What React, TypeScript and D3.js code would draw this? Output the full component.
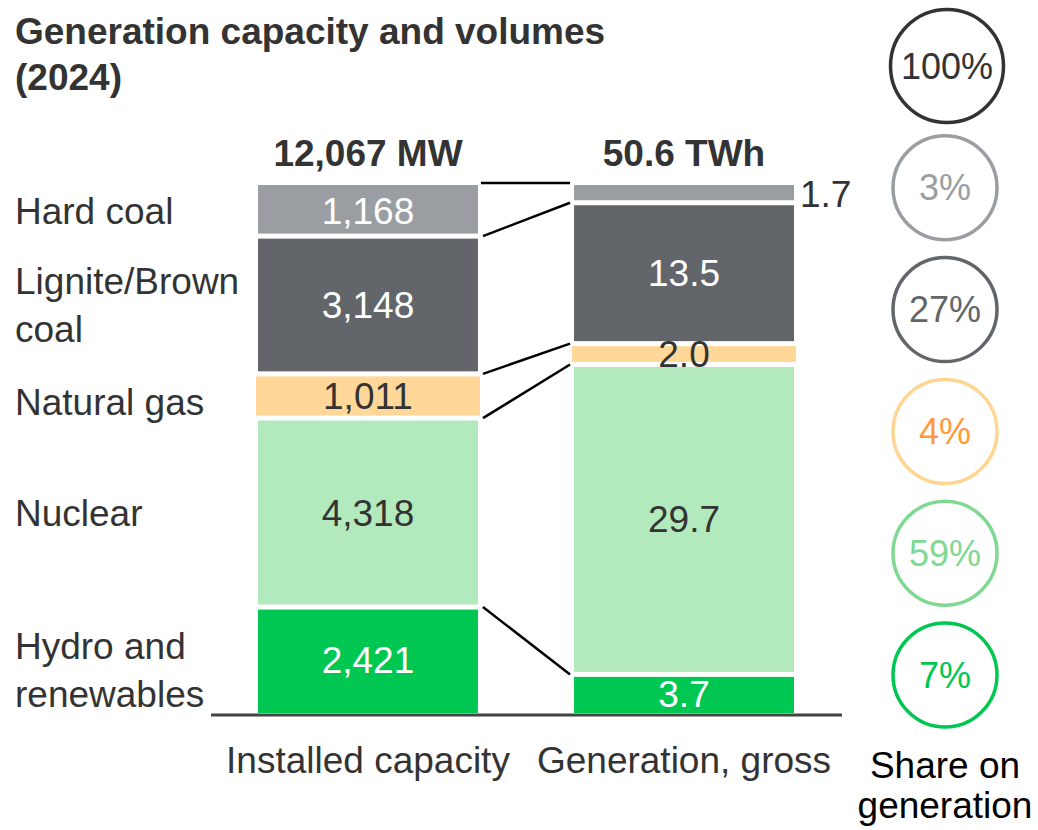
import * as d3 from "d3";

// Categories from top of stack to bottom
const categories = ["Hard coal", "Lignite/Brown coal", "Natural gas", "Nuclear", "Hydro and renewables"];
const categoryLines = [["Hard coal"], ["Lignite/Brown", "coal"], ["Natural gas"], ["Nuclear"], ["Hydro and", "renewables"]];
const capacityMW = [1168, 3148, 1011, 4318, 2421];
const generationTWh = [1.7, 13.5, 2.0, 29.7, 3.7];
const barNames = ["Installed capacity", "Generation, gross"];
const totalLabels = ["12,067 MW", "50.6 TWh"];

const fill: Record<string, string> = {
  "Hard coal": "#9a9ea3",
  "Lignite/Brown coal": "#626569",
  "Natural gas": "#ffd899",
  Nuclear: "#b2e9bd",
  "Hydro and renewables": "#00c752",
};
const labelFill: Record<string, string> = {
  "Hard coal": "#ffffff",
  "Lignite/Brown coal": "#ffffff",
  "Natural gas": "#333333",
  Nuclear: "#333333",
  "Hydro and renewables": "#ffffff",
};
const circleStroke: Record<string, string> = {
  total: "#333333",
  "Hard coal": "#9a9ea3",
  "Lignite/Brown coal": "#626569",
  "Natural gas": "#ffd592",
  Nuclear: "#80d993",
  "Hydro and renewables": "#00c752",
};
const circleText: Record<string, string> = {
  total: "#333333",
  "Hard coal": "#9a9ea3",
  "Lignite/Brown coal": "#626569",
  "Natural gas": "#ff9a3c",
  Nuclear: "#80d993",
  "Hydro and renewables": "#00c752",
};
// small nudges for the category labels on the left
const labelNudge: Record<string, number> = {
  "Natural gas": 6,
  "Hydro and renewables": 10,
};

const W = 1038;
const H = 830;
const FONT = "'Liberation Sans', Arial, sans-serif";
const FS = 37;
const barTop = 185;
const barBottom = 713;
const GAP = 5;

export default function App() {
  const x = d3.scaleBand().domain(barNames).range([258, 794]).paddingInner(0.304);
  const bw = x.bandwidth();
  const series = [capacityMW, generationTWh];

  const stacks = series.map((vals) => {
    const total = d3.sum(vals);
    const y = d3.scaleLinear().domain([0, total]).range([barTop, barBottom]);
    let acc = 0;
    return vals.map((v, i) => {
      const s = { cat: categories[i], v, y0: y(acc), y1: y(acc + v) };
      acc += v;
      return s;
    });
  });

  const fmtMW = d3.format(",");
  const fmtTWh = d3.format(".1f");
  const fmtPct = d3.format(".0%");
  const genTotal = d3.sum(generationTWh);

  const leftX = x(barNames[0])!;
  const rightX = x(barNames[1])!;

  // connectors: top edge + every inner boundary
  const connectors = stacks[0].map((s, i) => ({
    ly: i === 0 ? s.y0 - 2 : s.y0,
    ry: i === 0 ? stacks[1][i].y0 - 2 : stacks[1][i].y0,
  }));

  const circleKeys = ["total", ...categories];
  const shares = [1, ...generationTWh.map((v) => v / genTotal)];
  const cy = d3.scalePoint().domain(circleKeys).range([66, 675]);
  const cx = 945;

  return (
    <svg width={W} height={H} style={{ position: "absolute", left: 0, top: 0, background: "#fff" }} fontFamily={FONT}>
      <text x={15} y={44} fontSize={FS} fontWeight="bold" fill="#333">Generation capacity and volumes</text>
      <text x={15} y={90} fontSize={FS} fontWeight="bold" fill="#333">(2024)</text>

      {barNames.map((b, bi) => (
        <g key={b}>
          <text x={x(b)! + bw / 2} y={166} textAnchor="middle" fontSize={FS} fontWeight="bold" fill="#333">
            {totalLabels[bi]}
          </text>
          {stacks[bi].map((s, i) => {
            const top = s.y0 + (i > 0 ? GAP / 2 : 0);
            const bot = s.y1 - (i < stacks[bi].length - 1 ? GAP / 2 : 0);
            const wide = s.cat === "Natural gas" ? 2 : 0;
            const outside = i === 0 && bot - top < 20;
            const label = bi === 0 ? fmtMW(s.v) : fmtTWh(s.v);
            return (
              <g key={s.cat}>
                <rect x={x(b)! - wide} y={top} width={bw + wide * 2} height={Math.max(0, bot - top)} fill={fill[s.cat]} />
                {outside ? (
                  <text x={x(b)! + bw + 6} y={(s.y0 + s.y1) / 2} dy="0.35em" fontSize={FS} fill="#333">{label}</text>
                ) : (
                  <text x={x(b)! + bw / 2} y={(s.y0 + s.y1) / 2} dy="0.35em" textAnchor="middle" fontSize={FS} fill={labelFill[s.cat]}>
                    {label}
                  </text>
                )}
              </g>
            );
          })}
          <text x={x(b)! + bw / 2} y={773} textAnchor="middle" fontSize={FS} fill="#333">{b}</text>
        </g>
      ))}

      {connectors.map((c, i) => (
        <line key={i} x1={leftX + bw + (i === 0 ? 3 : 5)} y1={c.ly} x2={rightX - 4} y2={c.ry} stroke="#000" strokeWidth={2.5} />
      ))}

      <line x1={leftX - 47} x2={rightX + bw + 48} y1={barBottom + 2} y2={barBottom + 2} stroke="#444" strokeWidth={3} />

      {stacks[0].map((s, i) => {
        const lines = categoryLines[i];
        const c = (s.y0 + s.y1) / 2 + (labelNudge[s.cat] ?? 0);
        return (
          <text key={s.cat} x={15} fontSize={FS} fill="#333">
            {lines.map((l, li) => (
              <tspan key={li} x={15} y={c + (li - (lines.length - 1) / 2) * 48} dy="0.35em">{l}</tspan>
            ))}
          </text>
        );
      })}

      {circleKeys.map((k, i) => (
        <g key={k}>
          <circle cx={cx + (i === 0 ? 2 : 0)} cy={cy(k)} r={i === 0 ? 56.5 : 52} fill="none" stroke={circleStroke[k]} strokeWidth={3.5} />
          <text x={cx + (i === 0 ? 2 : 0)} y={cy(k)} dy="0.35em" textAnchor="middle" fontSize={FS - 1} fill={circleText[k]}>
            {fmtPct(shares[i])}
          </text>
        </g>
      ))}
      <text x={cx} y={778} textAnchor="middle" fontSize={FS} fill="#000">Share on</text>
      <text x={cx} y={818} textAnchor="middle" fontSize={FS} fill="#000">generation</text>
    </svg>
  );
}
